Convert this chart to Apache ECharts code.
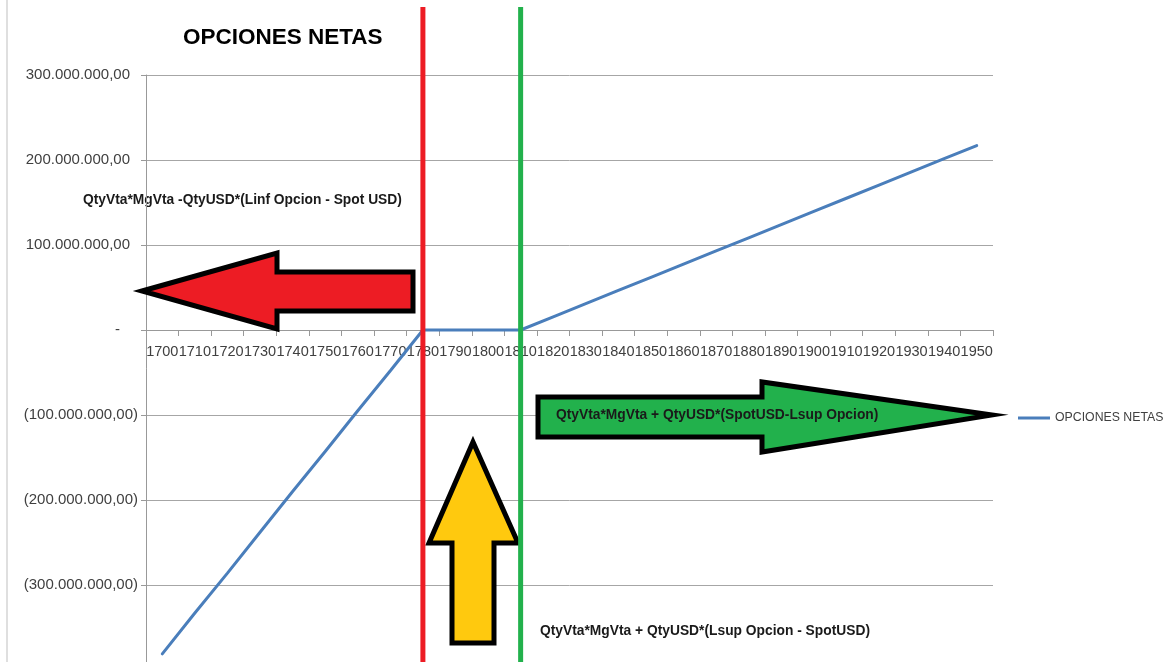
<!DOCTYPE html>
<html>
<head>
<meta charset="utf-8">
<script src="https://cdn.jsdelivr.net/npm/echarts@6/dist/echarts.min.js"></script>
<style>html,body{margin:0;padding:0;background:#fff;}#c{width:1172px;height:662px;}</style>
</head>
<body>
<div id="c"></div>
<script>
const categories = ['1700','1710','1720','1730','1740','1750','1760','1770','1780','1790','1800','1810','1820','1830','1840','1850','1860','1870','1880','1890','1900','1910','1920','1930','1940','1950'];
const netValues = [-381000000,-333000000,-286000000,-238000000,-190000000,-143000000,-95000000,-48000000,0,0,0,0,15500000,31000000,46500000,62000000,77500000,93000000,108500000,124000000,139500000,155000000,170500000,186000000,201500000,217000000];
const seriesName = 'OPCIONES NETAS';
const lowerStrike = '1780';
const upperStrike = '1810';
const noteLeft = 'QtyVta*MgVta -QtyUSD*(Linf Opcion - Spot USD)';
const noteRight = 'QtyVta*MgVta + QtyUSD*(SpotUSD-Lsup Opcion)';
const noteMiddle = 'QtyVta*MgVta + QtyUSD*(Lsup Opcion - SpotUSD)';

function fmtNum(v){
  const s = Math.round(v).toString().replace(/\B(?=(\d{3})+(?!\d))/g,'.');
  return s + ',00';
}
const FONT = '"Liberation Sans", Arial, sans-serif';
const GRID_TOP = 75, GRID_H = 595;
const chart = echarts.init(document.getElementById('c'));
const option = {
  animation:false,
  backgroundColor:'#fff',
  title:{text:'OPCIONES NETAS',left:178,top:21,textStyle:{fontFamily:FONT,fontSize:22.5,fontWeight:'bold',color:'#000'}},
  legend:{data:[{name:seriesName,icon:'rect'}],left:1018,top:412,padding:0,itemWidth:32,itemHeight:3,itemGap:5,
    textStyle:{fontFamily:FONT,fontSize:12.3,color:'#404040'}},
  grid:{left:146,top:GRID_TOP,width:847,height:GRID_H,containLabel:false,outerBoundsMode:'none'},
  xAxis:{type:'category',data:categories,boundaryGap:true,position:'bottom',offset:0,
    axisLine:{onZero:false,lineStyle:{color:'#999',width:1}},
    axisTick:{show:true,length:6,lineStyle:{color:'#999'}},
    axisLabel:{interval:0,margin:14,fontFamily:FONT,fontSize:14.5,color:'#404040'},
    splitLine:{show:false}},
  yAxis:{type:'value',min:-400000000,max:300000000,interval:100000000,
    axisLine:{show:true,onZero:false,lineStyle:{color:'#999'}},
    axisTick:{show:true,length:5,lineStyle:{color:'#999'}},
    splitLine:{show:true,lineStyle:{color:'#a6a6a6',width:1}},
    axisLabel:{margin:8,fontFamily:FONT,fontSize:15,color:'#404040',
      formatter:function(v){
        if(v===0) return '{z|-}';
        if(v<0) return '{n|(' + fmtNum(-v) + ')}';
        return '{p|' + fmtNum(v) + '}';
      },
      rich:{
        p:{fontFamily:FONT,fontSize:15,color:'#404040',padding:[0,8,0,0]},
        n:{fontFamily:FONT,fontSize:15,color:'#404040'},
        z:{fontFamily:FONT,fontSize:15,color:'#404040',padding:[0,18,0,0]}
      }}},
  series:[{name:seriesName,type:'line',data:netValues,showSymbol:false,symbol:'none',
    lineStyle:{color:'#4a7ebb',width:3,cap:'round'},itemStyle:{color:'#4a7ebb'},z:2}]
};
chart.setOption(option);

// place the category axis on the zero line
const yZero = chart.convertToPixel({yAxisIndex:0}, 0);
chart.setOption({xAxis:{offset:-(GRID_TOP + GRID_H - yZero)}});

const xL = chart.convertToPixel({xAxisIndex:0}, lowerStrike);
const xU = chart.convertToPixel({xAxisIndex:0}, upperStrike);
const noteFont = {fontFamily:FONT,fontSize:13.8,fontWeight:'bold',fill:'#1a1a1a'};
const stroke = {stroke:'#000',lineWidth:5,lineJoin:'miter'};
chart.setOption({graphic:[
  {type:'line',z:1,shape:{x1:7,y1:0,x2:7,y2:662},style:{stroke:'#bfbfbf',lineWidth:1}},
  {type:'text',z:0,style:Object.assign({text:noteLeft,x:83,y:200,verticalAlign:'middle'},noteFont)},
  {type:'text',z:0,style:Object.assign({text:noteMiddle,x:540,y:631,verticalAlign:'middle'},noteFont)},
  {type:'polygon',z:50,shape:{points:[[142,291],[277,253],[277,272],[413,272],[413,311],[277,311],[277,329]]},
    style:Object.assign({fill:'#ed1c24'},stroke)},
  {type:'polygon',z:50,shape:{points:[[992,415],[762,382],[762,397],[538,397],[538,437],[762,437],[762,452]]},
    style:Object.assign({fill:'#22b14c'},stroke)},
  {type:'text',z:51,style:Object.assign({text:noteRight,x:556,y:415,verticalAlign:'middle'},noteFont)},
  {type:'polygon',z:50,shape:{points:[[473,442],[518,543],[494,543],[494,643],[452,643],[452,543],[429,543]]},
    style:Object.assign({fill:'#ffc90e'},stroke)},
  {type:'line',z:60,shape:{x1:xL,y1:7,x2:xL,y2:662},style:{stroke:'#ed1c24',lineWidth:5}},
  {type:'line',z:60,shape:{x1:xU,y1:7,x2:xU,y2:662},style:{stroke:'#22b14c',lineWidth:5}}
]});
</script>
</body>
</html>
